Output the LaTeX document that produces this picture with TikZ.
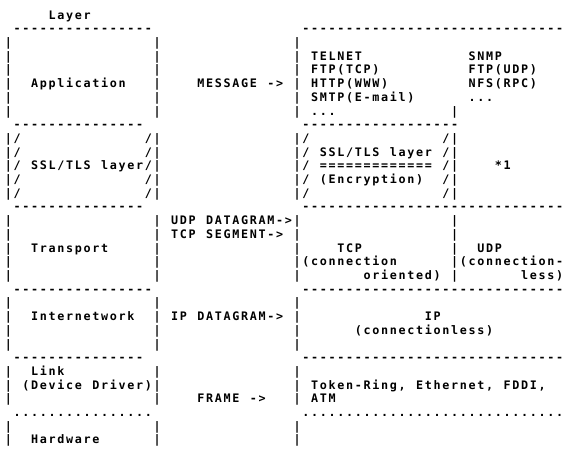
\documentclass[tikz,border=0pt]{standalone}
\usepackage{fontspec}
\newfontfamily\asciifont{DejaVu Sans Mono}
\newlength\cw \setlength\cw{6.5625pt}
\makeatletter
\newcommand\cellstr[1]{\cell@words#1 \@nil}
\def\cell@words#1 #2\@nil{%
  \@tfor\cell@c:=#1\do{\makebox[\cw][c]{\cell@c}}%
  \ifx\relax#2\relax\else\hspace*{\cw}\cell@words#2\@nil\fi}
\makeatother
\tikzset{txt/.style={inner sep=0pt, outer sep=0pt, anchor=base west,
  font=\asciifont\bfseries\fontsize{8.8pt}{10pt}\selectfont}}
\newcommand\At[3]{\node[txt] (r#1c#2) at ({3pt+#2*6.5625pt},{-14.4pt-(#1-1)*10.275pt}) {\cellstr{#3}};}
\begin{document}
\begin{tikzpicture}
\fill[white] (0,0) rectangle (425.25pt,-339pt);
\useasboundingbox (0,0) rectangle (425.25pt,-339pt);
% row 1-2
\At{1}{5}{Layer}
\At{2}{1}{----------------}
\At{2}{34}{------------------------------}
% Application block
\At{3}{0}{|}\At{3}{17}{|}\At{3}{33}{|}
\At{4}{0}{|}\At{4}{17}{|}\At{4}{33}{|}\At{4}{35}{TELNET}\At{4}{53}{SNMP}
\At{5}{0}{|}\At{5}{17}{|}\At{5}{33}{|}\At{5}{35}{FTP(TCP)}\At{5}{53}{FTP(UDP)}
\At{6}{0}{|}\At{6}{3}{Application}\At{6}{17}{|}\At{6}{22}{MESSAGE ->}\At{6}{33}{|}\At{6}{35}{HTTP(WWW)}\At{6}{53}{NFS(RPC)}
\At{7}{0}{|}\At{7}{17}{|}\At{7}{33}{|}\At{7}{35}{SMTP(E-mail)}\At{7}{53}{...}
\At{8}{0}{|}\At{8}{17}{|}\At{8}{33}{|}\At{8}{35}{...}\At{8}{51}{|}
\At{9}{1}{---------------}
\At{9}{34}{------------------}
% SSL/TLS block
\At{10}{0}{|/}\At{10}{16}{/|}\At{10}{33}{|/}\At{10}{50}{/|}
\At{11}{0}{|/}\At{11}{16}{/|}\At{11}{33}{|/}\At{11}{36}{SSL/TLS layer}\At{11}{50}{/|}
\At{12}{0}{|/}\At{12}{3}{SSL/TLS layer}\At{12}{16}{/|}\At{12}{33}{|/}\At{12}{36}{=============}\At{12}{50}{/|}\At{12}{56}{*1}
\At{13}{0}{|/}\At{13}{16}{/|}\At{13}{33}{|/}\At{13}{36}{(Encryption)}\At{13}{50}{/|}
\At{14}{0}{|/}\At{14}{16}{/|}\At{14}{33}{|/}\At{14}{50}{/|}
\At{15}{1}{---------------}
\At{15}{34}{------------------------------}
% Transport block
\At{16}{0}{|}\At{16}{17}{|}\At{16}{19}{UDP DATAGRAM->|}\At{16}{51}{|}
\At{17}{0}{|}\At{17}{17}{|}\At{17}{19}{TCP SEGMENT->}\At{17}{33}{|}\At{17}{51}{|}
\At{18}{0}{|}\At{18}{3}{Transport}\At{18}{17}{|}\At{18}{33}{|}\At{18}{38}{TCP}\At{18}{51}{|}\At{18}{54}{UDP}
\At{19}{0}{|}\At{19}{17}{|}\At{19}{33}{|(connection}\At{19}{51}{|(connection-}
\At{20}{0}{|}\At{20}{17}{|}\At{20}{33}{|}\At{20}{41}{oriented)}\At{20}{51}{|}\At{20}{59}{less)}
\At{21}{1}{----------------}
\At{21}{34}{------------------------------}
% Internetwork block
\At{22}{0}{|}\At{22}{17}{|}\At{22}{33}{|}
\At{23}{0}{|}\At{23}{3}{Internetwork}\At{23}{17}{|}\At{23}{19}{IP DATAGRAM->}\At{23}{33}{|}\At{23}{48}{IP}
\At{24}{0}{|}\At{24}{17}{|}\At{24}{33}{|}\At{24}{40}{(connectionless)}
\At{25}{0}{|}\At{25}{17}{|}\At{25}{33}{|}
\At{26}{1}{---------------}
\At{26}{34}{------------------------------}
% Link block
\At{27}{0}{|}\At{27}{3}{Link}\At{27}{17}{|}\At{27}{33}{|}
\At{28}{0}{|}\At{28}{2}{(Device Driver)|}\At{28}{33}{|}\At{28}{35}{Token-Ring, Ethernet, FDDI,}
\At{29}{0}{|}\At{29}{17}{|}\At{29}{22}{FRAME ->}\At{29}{33}{|}\At{29}{35}{ATM}
\At{30}{1}{................}
\At{30}{34}{..............................}
% Hardware
\At{31}{0}{|}\At{31}{17}{|}\At{31}{33}{|}
\At{32}{0}{|}\At{32}{3}{Hardware}\At{32}{17}{|}\At{32}{33}{|}
\end{tikzpicture}
\end{document}
